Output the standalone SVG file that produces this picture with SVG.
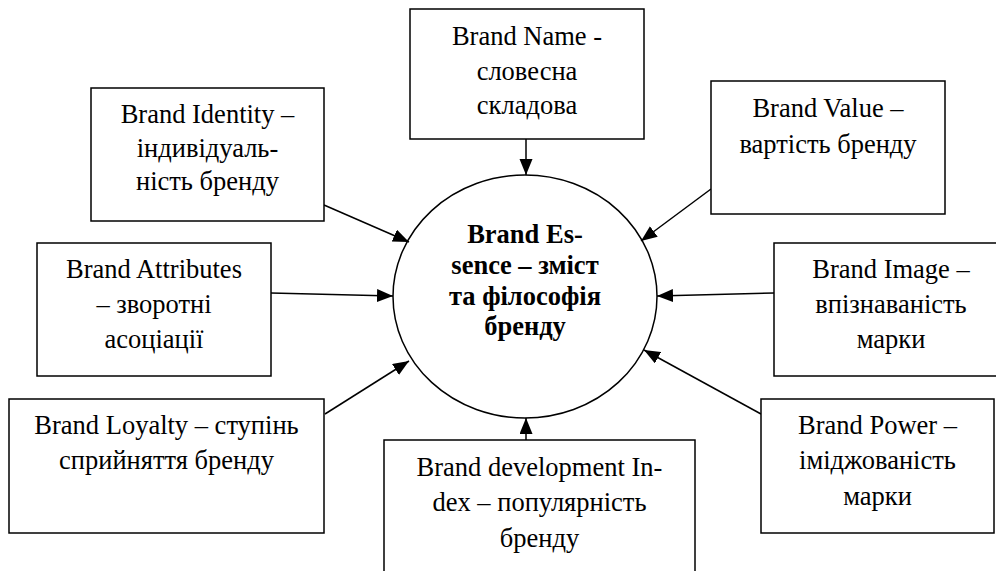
<svg xmlns="http://www.w3.org/2000/svg" width="996" height="571" viewBox="0 0 996 571">
<defs>
<marker id="arr" markerUnits="userSpaceOnUse" markerWidth="17" markerHeight="14" refX="16" refY="6.5" orient="auto">
<path d="M0,0 L16,6.5 L0,13 z" fill="#000"/>
</marker>
<style>
.box{fill:#fff;stroke:#000;stroke-width:1.5}
.t{font-family:"Liberation Serif","Times New Roman",serif;font-size:26.5px;fill:#000;text-anchor:middle}
.b{font-weight:bold}
.c{stroke:#000;stroke-width:1.5;fill:none;marker-end:url(#arr)}
</style>
</defs>
<rect width="996" height="571" fill="#fff"/>
<g id="connectors">
<line class="c" x1="526" y1="139" x2="526" y2="175"/>
<line class="c" x1="324" y1="205" x2="409" y2="242"/>
<line class="c" x1="711" y1="189" x2="641" y2="241"/>
<line class="c" x1="271" y1="293" x2="393" y2="296"/>
<line class="c" x1="774" y1="293" x2="657" y2="296"/>
<line class="c" x1="325" y1="414" x2="409" y2="361"/>
<line class="c" x1="761" y1="414" x2="644" y2="350"/>
<line class="c" x1="526" y1="440" x2="526" y2="418"/>
</g>
<g id="essence">
<ellipse cx="525" cy="296.5" rx="132" ry="121.5" fill="none" stroke="#000" stroke-width="1.5"/>
<text class="t b" x="525" y="243">Brand Es-</text>
<text class="t b" x="525" y="274">sence – зміст</text>
<text class="t b" x="525" y="305">та філософія</text>
<text class="t b" x="525" y="335">бренду</text>
</g>
<g id="name">
<rect class="box" x="410" y="9" width="234" height="130"/>
<text class="t" x="527" y="45">Brand Name -</text>
<text class="t" x="527" y="80">словесна</text>
<text class="t" x="527" y="114">складова</text>
</g>
<g id="identity">
<rect class="box" x="91" y="88" width="233" height="133"/>
<text class="t" x="207.5" y="123">Brand Identity –</text>
<text class="t" x="207.5" y="157">індивідуаль-</text>
<text class="t" x="207.5" y="190">ність бренду</text>
</g>
<g id="value">
<rect class="box" x="711" y="81" width="234" height="133"/>
<text class="t" x="828" y="117">Brand Value –</text>
<text class="t" x="828" y="153">вартість бренду</text>
</g>
<g id="attributes">
<rect class="box" x="37" y="243" width="234" height="133"/>
<text class="t" x="154" y="278">Brand Attributes</text>
<text class="t" x="154" y="313">– зворотні</text>
<text class="t" x="154" y="348">асоціації</text>
</g>
<g id="image">
<rect class="box" x="774" y="243" width="234" height="133"/>
<text class="t" x="891" y="278">Brand Image –</text>
<text class="t" x="891" y="313">впізнаваність</text>
<text class="t" x="891" y="348">марки</text>
</g>
<g id="loyalty">
<rect class="box" x="9" y="399" width="315" height="134"/>
<text class="t" x="166.5" y="434">Brand Loyalty – ступінь</text>
<text class="t" x="166.5" y="469">сприйняття бренду</text>
</g>
<g id="power">
<rect class="box" x="761" y="399" width="233" height="134"/>
<text class="t" x="877.5" y="434">Brand Power –</text>
<text class="t" x="877.5" y="469">іміджованість</text>
<text class="t" x="877.5" y="505">марки</text>
</g>
<g id="development">
<rect class="box" x="384" y="440" width="311" height="145"/>
<text class="t" x="539.5" y="476">Brand development In-</text>
<text class="t" x="539.5" y="511">dex – популярність</text>
<text class="t" x="539.5" y="547">бренду</text>
</g>
</svg>
